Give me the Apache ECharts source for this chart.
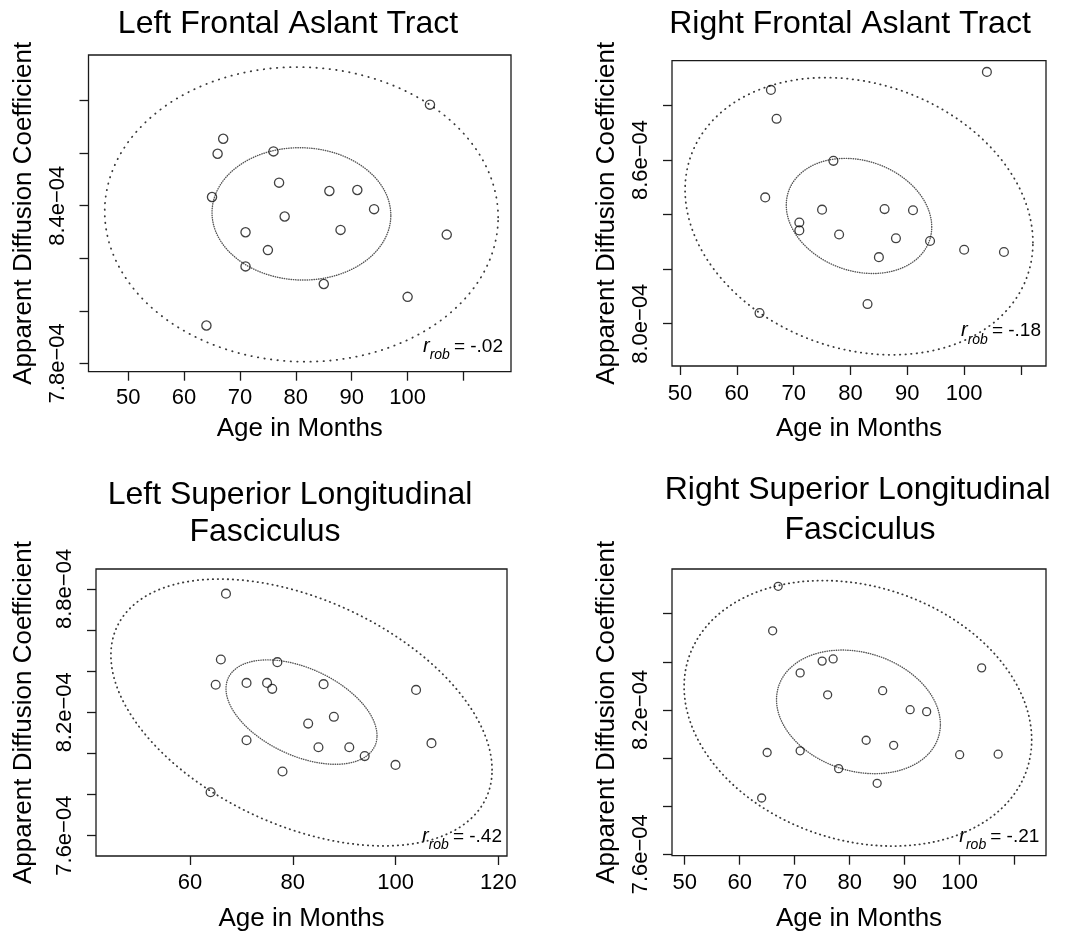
<!DOCTYPE html>
<html>
<head>
<meta charset="utf-8">
<script src="https://cdn.jsdelivr.net/npm/echarts@6.0.0/dist/echarts.min.js"></script>
<style>
  html, body { margin: 0; padding: 0; background: #fff; }
  #chart { width: 1069px; height: 936px; }
</style>
</head>
<body>
<div id="chart"></div>
<script>
// ---- data (age in months, ADC in mm^2/s) ----
var ageLFAT = [64, 65, 66, 67, 71, 71, 75, 76, 77, 78, 85, 86, 88, 91, 94, 100, 104, 107];
var adcLFAT = [7.944e-4, 8.433e-4, 8.598e-4, 8.655e-4, 8.299e-4, 8.169e-4, 8.231e-4, 8.607e-4, 8.488e-4,
               8.359e-4, 8.102e-4, 8.456e-4, 8.308e-4, 8.460e-4, 8.387e-4, 8.053e-4, 8.785e-4, 8.290e-4];

var ageRFAT = [64, 65, 66, 67, 71, 71, 75, 77, 78, 83, 85, 86, 88, 91, 94, 100, 104, 107];
var adcRFAT = [8.039e-4, 8.463e-4, 8.857e-4, 8.751e-4, 8.371e-4, 8.342e-4, 8.418e-4, 8.597e-4, 8.327e-4,
               8.072e-4, 8.244e-4, 8.420e-4, 8.313e-4, 8.416e-4, 8.303e-4, 8.271e-4, 8.923e-4, 8.263e-4];

var ageLSLF = [64, 65, 66, 67, 71, 71, 75, 76, 77, 78, 83, 85, 86, 88, 91, 94, 100, 104, 107];
var adcLSLF = [7.811e-4, 8.334e-4, 8.457e-4, 8.777e-4, 8.343e-4, 8.064e-4, 8.343e-4, 8.314e-4, 8.444e-4, 7.912e-4,
               8.145e-4, 8.030e-4, 8.337e-4, 8.178e-4, 8.030e-4, 7.987e-4, 7.944e-4, 8.309e-4, 8.050e-4];

var ageRSLF = [64, 65, 66, 67, 71, 71, 75, 76, 77, 78, 83, 85, 86, 88, 91, 94, 100, 104, 107];
var adcRSLF = [7.834e-4, 8.023e-4, 8.529e-4, 8.714e-4, 8.354e-4, 8.030e-4, 8.403e-4, 8.263e-4, 8.412e-4, 7.956e-4,
               8.074e-4, 7.895e-4, 8.280e-4, 8.053e-4, 8.201e-4, 8.193e-4, 8.014e-4, 8.375e-4, 8.016e-4];

// tolerance ellipses: [centre age, centre ADC, half-width (months), half-height (ADC), tilt r]
var ellOuterLFAT = [81.0, 8.367e-4, 35.2, 0.561e-4, -0.02];
var ellInnerLFAT = [81.0, 8.369e-4, 16.0, 0.252e-4, -0.02];
var ellOuterRFAT = [81.5, 8.394e-4, 30.6, 0.508e-4, -0.19];
var ellInnerRFAT = [81.5, 8.395e-4, 12.8, 0.211e-4, -0.19];
var ellOuterLSLF = [81.7, 8.199e-4, 37.1, 0.649e-4, -0.43];
var ellInnerLSLF = [81.7, 8.201e-4, 14.7, 0.254e-4, -0.45];
var ellOuterRSLF = [81.5, 8.186e-4, 31.6, 0.552e-4, -0.20];
var ellInnerRSLF = [81.6, 8.192e-4, 14.9, 0.257e-4, -0.20];

var rRob = ['-.02', '-.18', '-.42', '-.21'];

// ticks and labels
var xTicks10 = [50, 60, 70, 80, 90, 100, 110];
var xLabels10 = [50, 60, 70, 80, 90, 100];
var xTicks20 = [60, 80, 100, 120];
var xLabels20 = [60, 80, 100, 120];
var yTicksLFAT = [7.8e-4, 8.0e-4, 8.2e-4, 8.4e-4, 8.6e-4, 8.8e-4];
var yLabelsLFAT = [7.8e-4, 8.4e-4];
var yTicksRFAT = [8.0e-4, 8.2e-4, 8.4e-4, 8.6e-4, 8.8e-4];
var yLabelsRFAT = [8.0e-4, 8.6e-4];
var yTicksLSLF = [7.6e-4, 7.8e-4, 8.0e-4, 8.2e-4, 8.4e-4, 8.6e-4, 8.8e-4];
var yLabelsLSLF = [7.6e-4, 8.2e-4, 8.8e-4];
var yTicksRSLF = [7.6e-4, 7.8e-4, 8.0e-4, 8.2e-4, 8.4e-4, 8.6e-4];
var yLabelsRSLF = [7.6e-4, 8.2e-4];

// ---- layout ----
var FONT = '"Liberation Sans", Arial, Helvetica, sans-serif';

var panels = [
  { title: ['Left Frontal Aslant Tract'], tx: [288], ty: [35],
    grid: { left: 88.5, top: 55, width: 422.5, height: 316.7 },
    xr: [42.9, 118.5], yr: [7.768e-4, 8.974e-4],
    age: ageLFAT, adc: adcLFAT, outer: ellOuterLFAT, inner: ellInnerLFAT,
    xt: xTicks10, xl: xLabels10, yt: yTicksLFAT, yl: yLabelsLFAT, yGap: 52, xGap: 44, xMargin: 15,
    rx: 503, rb: 353, dot: 6.2, sym: 9.2 },
  { title: ['Right Frontal Aslant Tract'], tx: [850], ty: [35],
    grid: { left: 672, top: 60.7, width: 374, height: 305.3 },
    xr: [48.6, 114.4], yr: [7.845e-4, 8.964e-4],
    age: ageRFAT, adc: adcRFAT, outer: ellOuterRFAT, inner: ellInnerRFAT,
    xt: xTicks10, xl: xLabels10, yt: yTicksRFAT, yl: yLabelsRFAT, yGap: 52, xGap: 50, xMargin: 17,
    rx: 1041, rb: 337.7, dot: 5.2, sym: 8.8 },
  { title: ['Left Superior Longitudinal', 'Fasciculus'], tx: [290, 265], ty: [506.7, 543.3],
    grid: { left: 96, top: 569, width: 411, height: 287 },
    xr: [41.7, 121.7], yr: [7.501e-4, 8.897e-4],
    age: ageLSLF, adc: adcLSLF, outer: ellOuterLSLF, inner: ellInnerLSLF,
    xt: xTicks20, xl: xLabels20, yt: yTicksLSLF, yl: yLabelsLSLF, yGap: 59, xGap: 50, xMargin: 16,
    rx: 502, rb: 843.3, dot: 4.6, sym: 8.8 },
  { title: ['Right Superior Longitudinal', 'Fasciculus'], tx: [857.7, 860], ty: [501.7, 541.7],
    grid: { left: 672, top: 569, width: 374, height: 286.7 },
    xr: [47.7, 115.7], yr: [7.594e-4, 8.786e-4],
    age: ageRSLF, adc: adcRSLF, outer: ellOuterRSLF, inner: ellInnerRSLF,
    xt: xTicks10, xl: xLabels10, yt: yTicksRSLF, yl: yLabelsRSLF, yGap: 52, xGap: 50, xMargin: 16,
    rx: 1039.3, rb: 843.3, dot: 4.4, sym: 8 }
];

// R style exponent label: 8.4e-04
function sci(v) {
  var p = v.toExponential(1).split('e');
  var e = parseInt(p[1], 10);
  var a = Math.abs(e);
  return p[0] + 'e' + (e < 0 ? '\u2212' : '+') + (a < 10 ? '0' : '') + a;
}

// outline of an ellipse given extents and tilt
function ellipse(e) {
  var pts = [];
  var s = Math.sqrt(1 - e[4] * e[4]);
  for (var i = 0; i <= 240; i++) {
    var t = i / 240 * 2 * Math.PI;
    pts.push([e[0] + e[2] * Math.cos(t), e[1] + e[3] * (e[4] * Math.cos(t) + s * Math.sin(t))]);
  }
  return pts;
}

var ctx = document.createElement('canvas').getContext('2d');
function textW(font, s) { ctx.font = font; return ctx.measureText(s).width; }

var grids = [], xAxes = [], yAxes = [], series = [], graphics = [];

panels.forEach(function (p, i) {
  grids.push({
    left: p.grid.left, top: p.grid.top, width: p.grid.width, height: p.grid.height,
    show: true, borderColor: '#1a1a1a', borderWidth: 1.3, backgroundColor: 'transparent'
  });

  xAxes.push({
    gridIndex: i, type: 'value', min: p.xr[0], max: p.xr[1],
    axisLine: { show: false }, splitLine: { show: false },
    axisTick: { show: true, inside: false, length: 9, customValues: p.xt, lineStyle: { color: '#1a1a1a', width: 1.3 } },
    axisLabel: { customValues: p.xl, fontSize: 22, color: '#000', fontFamily: FONT, margin: p.xMargin,
                 formatter: function (v) { return String(v); } },
    name: 'Age in Months', nameLocation: 'middle', nameGap: p.xGap,
    nameTextStyle: { fontSize: 26, color: '#000', fontFamily: FONT }
  });

  yAxes.push({
    gridIndex: i, type: 'value', min: p.yr[0], max: p.yr[1],
    axisLine: { show: false }, splitLine: { show: false },
    axisTick: { show: true, inside: false, length: 9, customValues: p.yt, lineStyle: { color: '#1a1a1a', width: 1.3 } },
    axisLabel: { customValues: p.yl, rotate: 90, fontSize: 22, color: '#000', fontFamily: FONT, margin: 20,
                 formatter: function (v) { return sci(v); } },
    name: 'Apparent Diffusion Coefficient', nameLocation: 'middle', nameGap: p.yGap,
    nameTextStyle: { fontSize: 26, color: '#000', fontFamily: FONT }
  });

  series.push({
    type: 'line', xAxisIndex: i, yAxisIndex: i, data: ellipse(p.outer),
    showSymbol: false, silent: true, z: 1,
    lineStyle: { color: '#3a3a3a', width: 1.8, type: [0.4, p.dot], cap: 'round' }
  });
  series.push({
    type: 'line', xAxisIndex: i, yAxisIndex: i, data: ellipse(p.inner),
    showSymbol: false, silent: true, z: 1,
    lineStyle: { color: '#555', width: 1.4, type: [0.4, 1.9], cap: 'round' }
  });
  series.push({
    type: 'scatter', xAxisIndex: i, yAxisIndex: i, symbol: 'circle', symbolSize: p.sym, z: 3,
    data: p.age.map(function (a, k) { return [a, p.adc[k]]; }),
    itemStyle: { color: 'rgba(0,0,0,0)', borderColor: '#111', borderWidth: 1.3 }
  });

  // panel title lines
  p.title.forEach(function (t, k) {
    graphics.push({
      type: 'text', x: p.tx[k], y: p.ty[k] - 0.35 * 32,
      style: { text: t, font: '32px ' + FONT, fill: '#000', textAlign: 'center', textVerticalAlign: 'middle' }
    });
  });

  // r_rob annotation
  var valFont = '19px ' + FONT;
  var subFont = 'italic 14px ' + FONT;
  var rFont = 'italic 20px ' + FONT;
  var valTxt = '= ' + rRob[i];
  var w1 = textW(valFont, valTxt);
  var w2 = textW(subFont, 'rob');
  graphics.push({
    type: 'text', x: p.rx, y: p.rb - 0.35 * 19,
    style: { text: valTxt, font: valFont, fill: '#000', textAlign: 'right', textVerticalAlign: 'middle' }
  });
  graphics.push({
    type: 'text', x: p.rx - w1 - 4, y: p.rb + 7 - 0.35 * 14,
    style: { text: 'rob', font: subFont, fill: '#000', textAlign: 'right', textVerticalAlign: 'middle' }
  });
  graphics.push({
    type: 'text', x: p.rx - w1 - 4 - w2, y: p.rb - 0.35 * 20,
    style: { text: 'r', font: rFont, fill: '#000', textAlign: 'right', textVerticalAlign: 'middle' }
  });
});

var chart = echarts.init(document.getElementById('chart'), null, { renderer: 'canvas' });
chart.setOption({
  animation: false,
  backgroundColor: '#fff',
  grid: grids,
  xAxis: xAxes,
  yAxis: yAxes,
  series: series,
  graphic: { elements: graphics }
});
</script>
</body>
</html>
